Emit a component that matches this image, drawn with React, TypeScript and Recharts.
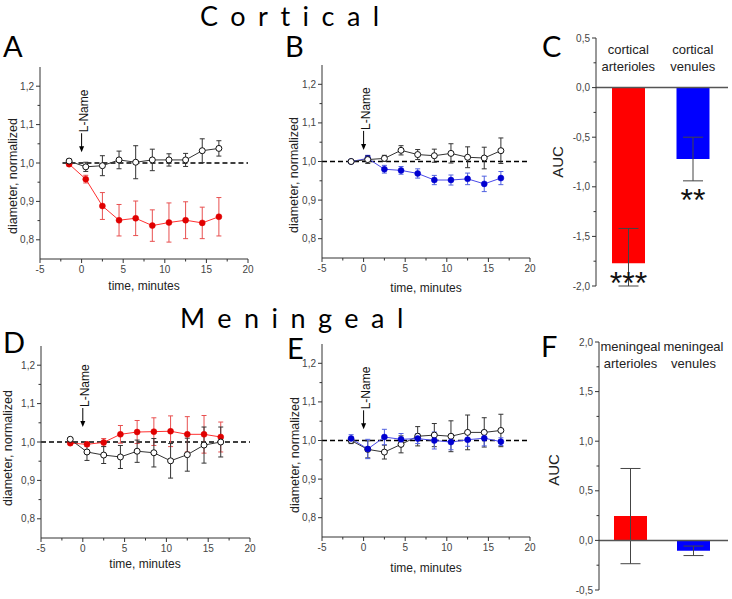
import React from "react";
import {
  ComposedChart,
  BarChart,
  Line,
  Bar,
  Cell,
  XAxis,
  YAxis,
  ErrorBar,
  ReferenceLine,
  ReferenceDot,
  LabelList,
} from "recharts";

// time after start, minutes (same for all four time courses)
const timePoints = [-1.5, 0.5, 2.5, 4.5, 6.5, 8.5, 10.5, 12.5, 14.5, 16.5];
const xTicks = [-5, -2.5, 0, 2.5, 5, 7.5, 10, 12.5, 15, 17.5, 20];
const diamTicks = [0.8, 0.85, 0.9, 0.95, 1.0, 1.05, 1.1, 1.15, 1.2];

// A - cortical arterioles
const aControl = [1.005, 0.99, 0.993, 1.008, 1.002, 1.008, 1.008, 1.008, 1.032, 1.038];
const aControlErr = [0.005, 0.012, 0.026, 0.023, 0.043, 0.028, 0.016, 0.017, 0.031, 0.02];
const aLName = [0.997, 0.958, 0.888, 0.851, 0.856, 0.837, 0.845, 0.851, 0.844, 0.86];
const aLNameErr = [0.005, 0.01, 0.035, 0.041, 0.045, 0.041, 0.051, 0.048, 0.041, 0.05];

// B - cortical venules
const bControl = [1.0, 1.005, 1.008, 1.029, 1.018, 1.015, 1.021, 1.011, 1.009, 1.028];
const bControlErr = [0.004, 0.01, 0.008, 0.012, 0.013, 0.017, 0.025, 0.027, 0.028, 0.033];
const bLName = [1.0, 1.008, 0.98, 0.977, 0.969, 0.952, 0.952, 0.955, 0.942, 0.957];
const bLNameErr = [0.004, 0.008, 0.01, 0.01, 0.012, 0.012, 0.013, 0.015, 0.02, 0.017];

// D - meningeal arterioles
const dControl = [1.007, 0.974, 0.966, 0.961, 0.976, 0.972, 0.951, 0.967, 0.992, 1.0];
const dControlErr = [0.004, 0.022, 0.022, 0.03, 0.029, 0.037, 0.045, 0.043, 0.047, 0.039];
const dLName = [0.997, 0.994, 0.999, 1.02, 1.026, 1.027, 1.028, 1.02, 1.02, 1.013];
const dLNameErr = [0.004, 0.005, 0.01, 0.023, 0.03, 0.036, 0.04, 0.046, 0.049, 0.039];

// E - meningeal venules
const eControl = [1.0, 0.977, 0.97, 0.99, 1.011, 1.014, 1.011, 1.021, 1.021, 1.026];
const eControlErr = [0.008, 0.022, 0.018, 0.022, 0.025, 0.03, 0.04, 0.045, 0.038, 0.042];
const eLName = [1.005, 0.978, 1.009, 1.003, 1.005, 1.0, 0.996, 1.002, 1.006, 0.997];
const eLNameErr = [0.01, 0.025, 0.02, 0.015, 0.013, 0.022, 0.02, 0.017, 0.02, 0.01];

// C, F - area under curve
const cortCategories = ["cortical arterioles", "cortical venules"];
const cortAuc = [-1.77, -0.72];
const cortAucErr = [0.35, 0.22];
const cortStars = ["***", "**"];
const cortTicks = [-2, -1.75, -1.5, -1.25, -1, -0.75, -0.5, -0.25, 0, 0.25, 0.5];

const menCategories = ["meningeal arterioles", "meningeal venules"];
const menAuc = [0.245, -0.105];
const menAucErr = [0.48, 0.048];
const menStars = ["", ""];
const menTicks = [-0.5, -0.25, 0, 0.25, 0.5, 0.75, 1, 1.25, 1.5, 1.75, 2];

const AXIS = "#333";
const TICK_FONT = "'Liberation Sans', Arial, sans-serif";
const TITLE_FONT = "Lato, 'Open Sans', sans-serif";
const barColors = ["#ff0000", "#0000ff"];
const starOffsets = [13, 34];

const comma = (v: number) => {
  const r = Math.round(v * 10) / 10;
  return (r === 0 ? 0 : r).toFixed(1).replace(".", ",");
};
const isMult = (v: number, step: number) => Math.abs(v / step - Math.round(v / step)) < 1e-6;

const makeYTick = (step: number) => (props: any) => {
  const { x, y, payload } = props;
  const major = isMult(payload.value, step);
  return (
    <g>
      <line x1={x} x2={x - (major ? 4 : 2.5)} y1={y} y2={y} stroke={AXIS} />
      {major && (
        <text x={x - 6} y={y + 3.5} textAnchor="end" fontSize={10} fill="#444" fontFamily={TICK_FONT}>
          {comma(payload.value)}
        </text>
      )}
    </g>
  );
};

const XTick = (props: any) => {
  const { x, y, payload } = props;
  const major = isMult(payload.value, 5);
  return (
    <g>
      <line x1={x} x2={x} y1={y} y2={y + (major ? 4 : 2.5)} stroke={AXIS} />
      {major && (
        <text x={x} y={y + 14} textAnchor="middle" fontSize={10} fill="#444" fontFamily={TICK_FONT}>
          {payload.value}
        </text>
      )}
    </g>
  );
};

const LNameArrow = (props: any) => {
  const { cx, cy } = props;
  return (
    <g>
      <line x1={cx} x2={cx} y1={cy - 3} y2={cy - 19} stroke="#000" />
      <path d={`M${cx - 2.5},${cy - 6} L${cx + 2.5},${cy - 6} L${cx},${cy} Z`} fill="#000" />
      <text
        x={cx + 6}
        y={cy - 20}
        transform={`rotate(-90 ${cx + 6} ${cy - 20})`}
        fontSize={12}
        fill="#111"
        fontFamily={TICK_FONT}
      >
        L-Name
      </text>
    </g>
  );
};

const ML = 40;
const MT = 10;
const MR = 10;
const MB = 40;

interface TimeCourseProps {
  left: number;
  top: number;
  w: number;
  h: number;
  control: number[];
  controlErr: number[];
  lname: number[];
  lnameErr: number[];
  dotColor: string;
  lineColor: string;
  errColor: string;
  dashFrom: number;
  arrowAt: number;
  lnameOnTop?: boolean;
}

const TimeCourse = (p: TimeCourseProps) => {
  const data = timePoints.map((t, i) => ({
    t,
    control: p.control[i],
    controlErr: p.controlErr[i],
    lname: p.lname[i],
    lnameErr: p.lnameErr[i],
  }));

  const lnameLine = (
    <Line
      key="lname"
      type="linear"
      dataKey="lname"
      stroke={p.lineColor}
      strokeWidth={1}
      dot={{ r: 3, fill: p.dotColor, stroke: p.dotColor, strokeWidth: 0.5 }}
      activeDot={false}
      isAnimationActive={false}
    >
      <ErrorBar dataKey="lnameErr" direction="y" width={2.5} stroke={p.errColor} strokeWidth={1} />
    </Line>
  );
  const controlLine = (
    <Line
      key="control"
      type="linear"
      dataKey="control"
      stroke="#333"
      strokeWidth={1}
      dot={{ r: 3, fill: "#fff", stroke: "#111", strokeWidth: 1 }}
      activeDot={false}
      isAnimationActive={false}
    >
      <ErrorBar dataKey="controlErr" direction="y" width={2.5} stroke="#333" strokeWidth={1} />
    </Line>
  );

  return (
    <div style={{ position: "absolute", left: p.left - ML, top: p.top - MT }}>
      <ComposedChart
        width={p.w + ML + MR}
        height={p.h + MT + MB}
        data={data}
        margin={{ top: MT, right: MR, bottom: 0, left: 0 }}
      >
        <XAxis
          type="number"
          dataKey="t"
          domain={[-5, 20]}
          ticks={xTicks}
          interval={0}
          tick={XTick}
          tickLine={false}
          tickSize={0}
          tickMargin={0}
          height={MB}
          stroke={AXIS}
          allowDataOverflow
        />
        <YAxis
          type="number"
          domain={[0.75, 1.25]}
          ticks={diamTicks}
          interval={0}
          tick={makeYTick(0.1)}
          tickLine={false}
          tickSize={0}
          tickMargin={0}
          width={ML}
          stroke={AXIS}
          allowDataOverflow
        />
        <ReferenceLine
          segment={[
            { x: p.dashFrom, y: 1 },
            { x: 20, y: 1 },
          ]}
          stroke="#000"
          strokeWidth={1.5}
          strokeDasharray="5 3"
        />
        {p.lnameOnTop ? [controlLine, lnameLine] : [lnameLine, controlLine]}
        <ReferenceDot x={0} y={p.arrowAt} r={0} shape={LNameArrow} />
      </ComposedChart>
    </div>
  );
};

const makeCatLabel = (name: string, gap: number) => (props: any) => {
  const { cx, cy } = props;
  const words = name.split(" ");
  return (
    <g>
      {words.map((wd, i) => (
        <text
          key={wd}
          x={cx}
          y={cy + gap + i * 16.5}
          textAnchor="middle"
          fontSize={13}
          fill="#222"
          fontFamily={TICK_FONT}
        >
          {wd}
        </text>
      ))}
    </g>
  );
};

const StarLabel = (props: any) => {
  const vb = props.viewBox || props;
  const { index, value } = props;
  if (!value) return null;
  const bottom = Math.max(vb.y, vb.y + vb.height);
  const cy = bottom + starOffsets[index];
  return (
    <text
      x={vb.x + vb.width / 2}
      y={cy + 18}
      textAnchor="middle"
      fontSize={32}
      fill="#111"
      fontFamily={TICK_FONT}
    >
      {value}
    </text>
  );
};

const BML = 45;
const BMR = 4;
const BMB = 28;

interface AucProps {
  left: number;
  top: number;
  w: number;
  h: number;
  categories: string[];
  values: number[];
  errors: number[];
  stars: string[];
  domain: [number, number];
  ticks: number[];
  labelGap: number;
}

const AucPanel = (p: AucProps) => {
  // the lower whisker stops at the axis limit, as in the original plot
  const data = p.categories.map((c, i) => ({
    name: c,
    auc: p.values[i],
    err: [Math.min(p.errors[i], p.values[i] - p.domain[0]), p.errors[i]],
    stars: p.stars[i],
  }));
  return (
    <div style={{ position: "absolute", left: p.left - BML, top: p.top - MT }}>
      <BarChart
        width={p.w + BML + BMR}
        height={p.h + MT + BMB}
        data={data}
        margin={{ top: MT, right: BMR, bottom: BMB, left: 0 }}
      >
        <XAxis dataKey="name" hide padding={{ left: 0, right: 3 }} />
        <YAxis
          type="number"
          domain={p.domain}
          ticks={p.ticks}
          interval={0}
          tick={makeYTick(0.5)}
          tickLine={false}
          tickSize={0}
          tickMargin={0}
          width={BML}
          stroke={AXIS}
          allowDataOverflow
        />
        <Bar dataKey="auc" barSize={33} isAnimationActive={false}>
          {data.map((d, i) => (
            <Cell key={d.name} fill={barColors[i]} />
          ))}
          <ErrorBar dataKey="err" direction="y" width={10} stroke="#444" strokeWidth={1} />
          <LabelList dataKey="stars" content={StarLabel} />
        </Bar>
        <ReferenceLine y={0} stroke="#555" strokeWidth={1.5} />
        {p.categories.map((c) => (
          <ReferenceDot key={c} x={c} y={p.domain[1]} r={0} shape={makeCatLabel(c, p.labelGap)} />
        ))}
      </BarChart>
    </div>
  );
};

const AxisTitleY = ({ x, y, text, size = 12.5 }: { x: number; y: number; text: string; size?: number }) => (
  <text
    x={x}
    y={y}
    transform={`rotate(-90 ${x} ${y})`}
    textAnchor="middle"
    fontSize={size}
    fill="#222"
    fontFamily={TICK_FONT}
  >
    {text}
  </text>
);

const AxisTitleX = ({ x, y }: { x: number; y: number }) => (
  <text x={x} y={y} textAnchor="middle" fontSize={12} fill="#222" fontFamily={TICK_FONT}>
    time, minutes
  </text>
);

const PanelLetter = ({ x, y, t }: { x: number; y: number; t: string }) => (
  <text x={x} y={y} fontSize={29} fill="#000" fontFamily={TITLE_FONT}>
    {t}
  </text>
);

export default function App() {
  return (
    <div
      style={{
        position: "absolute",
        left: 0,
        top: 0,
        width: 732,
        height: 599,
        background: "#fff",
        overflow: "hidden",
      }}
    >
      <svg width={732} height={599} style={{ position: "absolute", left: 0, top: 0 }}>
        <text x={200} y={26} fontSize={27} letterSpacing={12.5} fill="#000" fontFamily={TITLE_FONT}>
          Cortical
        </text>
        <text x={180} y={328} fontSize={27} letterSpacing={12.5} fill="#000" fontFamily={TITLE_FONT}>
          Meningeal
        </text>
        <PanelLetter x={3} y={57} t="A" />
        <PanelLetter x={285} y={57} t="B" />
        <PanelLetter x={542} y={57} t="C" />
        <PanelLetter x={3} y={353} t="D" />
        <PanelLetter x={287} y={359} t="E" />
        <PanelLetter x={541} y={357} t="F" />
        <AxisTitleY x={17} y={176} text="diameter, normalized" />
        <AxisTitleY x={298} y={175} text="diameter, normalized" />
        <AxisTitleY x={12} y={448} text="diameter, normalized" />
        <AxisTitleY x={299} y={455} text="diameter, normalized" />
        <AxisTitleY x={563} y={162} text="AUC" size={15} />
        <AxisTitleY x={559} y={470} text="AUC" size={15} />
        <AxisTitleX x={144} y={290} />
        <AxisTitleX x={426} y={292} />
        <AxisTitleX x={145} y={568} />
        <AxisTitleX x={426} y={572} />
      </svg>

      <TimeCourse
        left={40}
        top={67}
        w={208}
        h={192}
        control={aControl}
        controlErr={aControlErr}
        lname={aLName}
        lnameErr={aLNameErr}
        dotColor="#e00000"
        lineColor="#ff3030"
        errColor="#e85050"
        dashFrom={-2.3}
        arrowAt={1.028}
      />
      <TimeCourse
        left={322}
        top={65}
        w={208}
        h={193}
        control={bControl}
        controlErr={bControlErr}
        lname={bLName}
        lnameErr={bLNameErr}
        dotColor="#0000d0"
        lineColor="#4a4ae8"
        errColor="#5060e0"
        dashFrom={-5}
        arrowAt={1.03}
      />
      <AucPanel
        left={596}
        top={38}
        w={132}
        h={248}
        categories={cortCategories}
        values={cortAuc}
        errors={cortAucErr}
        stars={cortStars}
        domain={[-2, 0.5]}
        ticks={cortTicks}
        labelGap={16}
      />
      <TimeCourse
        left={41}
        top={346}
        w={209}
        h={192}
        control={dControl}
        controlErr={dControlErr}
        lname={dLName}
        lnameErr={dLNameErr}
        dotColor="#e00000"
        lineColor="#ff3030"
        errColor="#e85050"
        dashFrom={-5}
        arrowAt={1.039}
      />
      <TimeCourse
        left={322}
        top={344}
        w={208}
        h={193}
        control={eControl}
        controlErr={eControlErr}
        lname={eLName}
        lnameErr={eLNameErr}
        dotColor="#0000d0"
        lineColor="#4a4ae8"
        errColor="#5060e0"
        dashFrom={-5}
        arrowAt={1.029}
        lnameOnTop
      />
      <AucPanel
        left={599}
        top={342}
        w={129}
        h={248}
        categories={menCategories}
        values={menAuc}
        errors={menAucErr}
        stars={menStars}
        domain={[-0.5, 2]}
        ticks={menTicks}
        labelGap={9}
      />
    </div>
  );
}
